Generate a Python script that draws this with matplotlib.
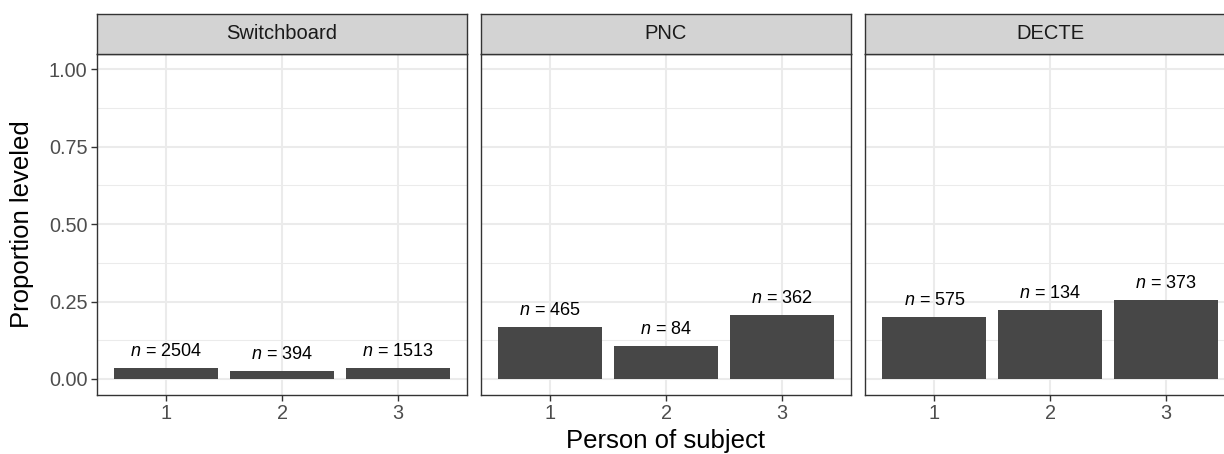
import matplotlib
matplotlib.use("Agg")
import matplotlib.pyplot as plt

plt.rcParams['font.family'] = ['Liberation Sans', 'DejaVu Sans']
plt.rcParams['mathtext.fontset'] = 'custom'
plt.rcParams['mathtext.it'] = 'Liberation Sans:italic'
plt.rcParams['mathtext.rm'] = 'Liberation Sans'

corpora = ["Switchboard", "PNC", "DECTE"]
persons = ["1", "2", "3"]
switchboard_prop = [0.035, 0.026, 0.034]
pnc_prop = [0.168, 0.106, 0.206]
decte_prop = [0.199, 0.222, 0.254]
switchboard_n = [2504, 394, 1513]
pnc_n = [465, 84, 362]
decte_n = [575, 134, 373]

props = [switchboard_prop, pnc_prop, decte_prop]
counts = [switchboard_n, pnc_n, decte_n]

W, H = 1224, 454
fig = plt.figure(figsize=(W / 100, H / 100), dpi=100)

panel_lefts = [97, 481, 865]
panel_w = 370
top, bottom = 53.5, 394.5
strip_top = 14.3

grid_col = "#EBEBEB"
border_col = "#333333"
tick_col = "#4D4D4D"

for i, (name, p, n) in enumerate(zip(corpora, props, counts)):
    l = panel_lefts[i]
    ax = fig.add_axes([l / W, 1 - bottom / H, panel_w / W, (bottom - top) / H])
    x = list(range(1, len(persons) + 1))
    ax.set_xlim(0.4, 3.6)
    ax.set_ylim(-0.05, 1.05)
    # grid
    for yv in [0.125, 0.375, 0.625, 0.875]:
        ax.axhline(yv, color=grid_col, lw=0.75, zorder=0)
    for yv in [0, 0.25, 0.5, 0.75, 1.0]:
        ax.axhline(yv, color=grid_col, lw=1.5, zorder=0)
    for xv in x:
        ax.axvline(xv, color=grid_col, lw=1.5, zorder=0)
    ax.bar(x, p, width=0.9, color="#474747", zorder=2)
    for xi, yi, ni in zip(x, p, n):
        ax.annotate(r"$n$ = " + str(ni), (xi, yi), xytext=(0, 6),
                    textcoords="offset points", ha="center", va="bottom",
                    fontsize=13, color="black", zorder=3)
    ax.set_xticks(x)
    ax.set_xticklabels(persons)
    ax.set_yticks([0, 0.25, 0.5, 0.75, 1.0])
    ax.tick_params(axis="both", colors=border_col, length=4.5, width=1.0,
                   labelsize=14.3, labelcolor=tick_col, pad=2.5)
    if i == 0:
        ax.set_yticklabels(["0.00", "0.25", "0.50", "0.75", "1.00"])
    else:
        ax.tick_params(axis="y", left=False, labelleft=False)
    for s in ax.spines.values():
        s.set_color(border_col)
        s.set_linewidth(1.0)
    # strip
    sax = fig.add_axes([l / W, 1 - top / H, panel_w / W, (top - strip_top) / H])
    sax.set_xticks([])
    sax.set_yticks([])
    sax.set_facecolor("#D3D3D3")
    for s in sax.spines.values():
        s.set_color(border_col)
        s.set_linewidth(1.0)
    sax.text(0.5, 0.5, name, ha="center", va="center", fontsize=14.5,
             color="#1A1A1A", transform=sax.transAxes)

fig.text((97 + 1235) / 2 / W, 1 - 441 / H, "Person of subject", ha="center",
         va="center", fontsize=18.5, color="black")
fig.text(22 / W, 1 - 224 / H, "Proportion leveled", ha="center", va="center",
         rotation=90, fontsize=18.5, color="black")

fig.savefig("out.png", dpi=100)
